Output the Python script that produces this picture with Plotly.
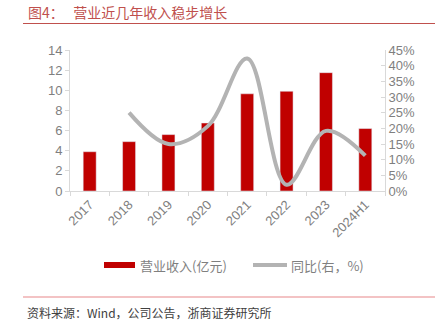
import plotly.graph_objects as go

categories = ["2017", "2018", "2019", "2020", "2021", "2022", "2023", "2024H1"]
revenue = [3.9, 4.9, 5.6, 6.75, 9.65, 9.9, 11.75, 6.2]
yoy_cats = ["2018", "2019", "2020", "2021", "2022", "2023", "2024H1"]
yoy = [25.0, 15.0, 20.7, 42.3, 2.0, 19.2, 11.3]

y1_ticks = [0, 2, 4, 6, 8, 10, 12, 14]
y2_ticks = [0, 5, 10, 15, 20, 25, 30, 35, 40, 45]

RED = "#c00000"
GRAY_LINE = "#b3b3b3"
TXT = "#7f7f7f"
AX = "#d9d9d9"
FONT = "Liberation Sans, Arial, Noto Sans CJK SC"
CJK = "Noto Sans CJK SC"

fig = go.Figure()
fig.add_trace(go.Bar(x=categories, y=revenue, marker_color=RED, width=0.33,
                     name="营业收入(亿元)", showlegend=False))
fig.add_trace(go.Scatter(x=yoy_cats, y=yoy, yaxis="y2", mode="lines",
                         line=dict(color=GRAY_LINE, width=4, shape="spline", smoothing=1.0),
                         name="同比(右，%)", showlegend=False))

fig.update_layout(
    width=441, height=329,
    margin=dict(l=70, r=56, t=50, b=138),
    paper_bgcolor="white", plot_bgcolor="white",
    font=dict(family=FONT, color=TXT, size=12),
    xaxis=dict(type="category", categoryorder="array", categoryarray=categories,
               showline=True, linecolor=AX, linewidth=1,
               ticks="outside", tickson="boundaries", ticklen=4, tickcolor=AX,
               tickangle=-45, tickfont=dict(size=13, color=TXT), showgrid=False),
    yaxis=dict(range=[0, 14], tickvals=y1_ticks, showline=True, linecolor=AX,
               ticks="outside", ticklen=4, tickcolor=AX, showgrid=False, zeroline=False,
               tickfont=dict(size=13, color=TXT)),
    yaxis2=dict(range=[0, 45], tickvals=y2_ticks, ticktext=[f"{v}%" for v in y2_ticks],
                overlaying="y", side="right", showline=True, linecolor=AX,
                ticks="inside", ticklen=4, tickcolor=AX, showgrid=False, zeroline=False,
                tickfont=dict(size=13, color=TXT)),
    bargap=0.67,
)

def px_x(px):
    return (px - 70) / 315

def px_y(py):
    return (191 - py) / 141

shapes = [
    dict(type="line", xref="paper", yref="paper", x0=px_x(23), x1=px_x(435),
         y0=px_y(23.5), y1=px_y(23.5), line=dict(color="#c0504d", width=1)),
    dict(type="line", xref="paper", yref="paper", x0=px_x(23), x1=px_x(435),
         y0=px_y(297), y1=px_y(297), line=dict(color="#e8878a", width=1.2)),
    dict(type="rect", xref="paper", yref="paper", x0=px_x(104), x1=px_x(135),
         y0=px_y(268), y1=px_y(262), fillcolor=RED, line=dict(width=0)),
    dict(type="line", xref="paper", yref="paper", x0=px_x(253), x1=px_x(287),
         y0=px_y(265), y1=px_y(265), line=dict(color=GRAY_LINE, width=4)),
]
fig.update_layout(shapes=shapes)

annotations = [
    dict(text="图4：   营业近几年收入稳步增长", x=px_x(26), y=px_y(12), xref="paper", yref="paper",
         xanchor="left", yanchor="middle", showarrow=False,
         font=dict(family=CJK, size=14, color="#c0504d")),
    dict(text="资料来源：Wind，公司公告，浙商证券研究所", x=px_x(25), y=px_y(312),
         xref="paper", yref="paper", xanchor="left", yanchor="middle", showarrow=False,
         font=dict(family=CJK, size=12, color="#404040")),
    dict(text="营业收入(亿元)", x=px_x(138), y=px_y(265), xref="paper", yref="paper",
         xanchor="left", yanchor="middle", showarrow=False,
         font=dict(family=CJK, size=13, color=TXT)),
    dict(text="同比(右，%)", x=px_x(289), y=px_y(265), xref="paper", yref="paper",
         xanchor="left", yanchor="middle", showarrow=False,
         font=dict(family=CJK, size=13, color=TXT)),
]
fig.update_layout(annotations=annotations)

fig.write_html("out.html")
